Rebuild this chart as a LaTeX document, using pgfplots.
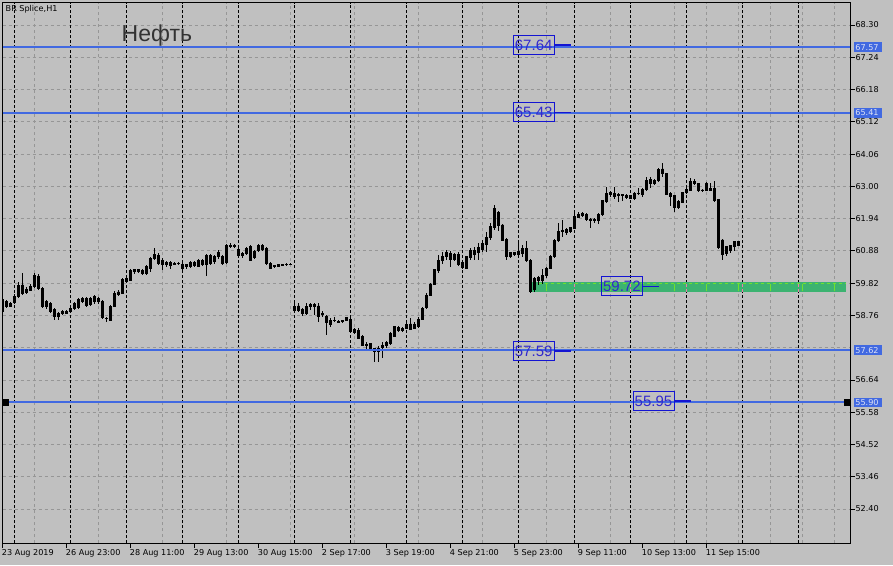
\documentclass[border=0pt]{standalone}
\usepackage{fontspec}
\setmainfont{DejaVu Sans}
\newfontfamily\arial{Liberation Sans}
\usepackage{pgfplots}
\usepackage{pgfplotstable}
\pgfplotsset{compat=1.18}

\definecolor{chartbg}{RGB}{192,192,192}
\definecolor{gridgray}{RGB}{150,150,150}
\definecolor{level}{RGB}{65,105,225}
\definecolor{zone}{RGB}{60,179,113}
\definecolor{zonegrid}{RGB}{110,225,45}
\definecolor{zonesep}{RGB}{240,125,170}
\definecolor{boxblue}{RGB}{20,20,210}
\definecolor{labeltext}{RGB}{50,40,205}
\definecolor{tagtext}{RGB}{220,225,245}
\definecolor{titlegray}{RGB}{51,51,51}

% BR Splice, H1 bars: index, open, high, low, close
\pgfplotstableread{
i o h l c
0 59.27 59.30 58.85 58.90
1 59.07 59.28 59.00 59.23
2 59.07 59.20 59.05 59.16
3 59.18 59.45 59.15 59.40
4 59.37 59.87 59.33 59.76
5 59.76 60.14 59.42 59.48
6 59.62 59.70 59.45 59.50
7 59.59 59.80 59.55 59.72
8 59.70 60.16 59.65 60.09
9 60.05 60.12 59.60 59.65
10 59.65 59.70 59.00 59.07
11 59.21 59.25 58.98 59.05
12 59.16 59.20 58.85 58.90
13 58.96 59.00 58.61 58.74
14 58.74 58.88 58.60 58.83
15 58.90 58.93 58.78 58.83
16 58.90 58.95 58.80 58.83
17 58.88 59.05 58.85 58.99
18 58.99 59.20 58.95 59.16
19 59.02 59.32 58.98 59.27
20 59.32 59.38 59.18 59.23
21 59.32 59.37 59.05 59.10
22 59.13 59.37 59.08 59.32
23 59.37 59.42 59.15 59.21
24 59.32 59.35 59.15 59.21
25 59.21 59.25 58.65 58.70
26 58.67 58.72 58.55 58.65
27 58.61 59.10 58.58 59.07
28 59.07 59.55 59.02 59.48
29 59.53 59.60 59.40 59.46
30 59.48 59.98 59.45 59.94
31 59.87 60.02 59.82 59.98
32 59.92 60.28 59.88 60.23
33 60.20 60.30 60.12 60.27
34 60.22 60.30 60.15 60.27
35 60.25 60.28 60.08 60.14
36 60.14 60.40 60.10 60.36
37 60.31 60.68 60.20 60.63
38 60.63 60.96 60.58 60.78
39 60.74 60.80 60.40 60.47
40 60.58 60.63 60.25 60.45
41 60.44 60.55 60.35 60.50
42 60.41 60.55 60.30 60.49
43 60.44 60.50 60.40 60.47
44 60.46 60.50 60.42 60.47
45 60.44 60.47 60.20 60.31
46 60.36 60.46 60.30 60.42
47 60.38 60.55 60.33 60.49
48 60.40 60.55 60.35 60.50
49 60.38 60.62 60.35 60.58
50 60.58 60.62 60.40 60.42
51 60.45 60.78 60.05 60.74
52 60.47 60.78 60.43 60.74
53 60.71 60.75 60.45 60.52
54 60.82 60.90 60.60 60.69
55 60.71 60.75 60.40 60.47
56 60.49 61.12 60.45 61.07
57 61.07 61.15 60.98 61.02
58 61.02 61.10 60.98 61.05
59 60.93 60.98 60.68 60.74
60 60.80 60.85 60.65 60.72
61 60.80 61.00 60.75 60.96
62 61.04 61.07 60.55 60.58
63 60.67 60.90 60.62 60.85
64 60.89 61.10 60.85 61.07
65 61.07 61.10 60.88 60.93
66 60.96 61.00 60.42 60.47
67 60.47 60.50 60.27 60.31
68 60.36 60.42 60.32 60.40
69 60.38 60.44 60.35 60.42
70 60.40 60.46 60.37 60.44
71 60.43 60.47 60.42 60.45
72 60.44 60.47 60.43 60.45
73 58.92 59.27 58.83 59.05
74 59.07 59.16 58.88 58.94
75 58.96 59.00 58.74 58.83
76 58.81 59.18 58.78 59.07
77 59.13 59.16 58.94 59.05
78 59.13 59.16 58.78 59.05
79 59.07 59.18 58.55 58.72
80 58.82 58.92 58.72 58.79
81 58.74 58.77 58.12 58.52
82 58.45 58.66 58.39 58.61
83 58.58 58.70 58.55 58.60
84 58.57 58.60 58.50 58.54
85 58.56 58.62 58.50 58.58
86 58.61 58.72 58.58 58.70
87 58.63 58.68 58.20 58.23
88 58.30 58.35 58.15 58.20
89 58.26 58.34 57.98 58.01
90 58.06 58.10 57.75 57.79
91 57.80 57.90 57.65 57.79
92 57.84 57.86 57.62 57.68
93 57.57 57.70 57.24 57.66
94 57.58 57.75 57.24 57.66
95 57.70 57.90 57.35 57.76
96 57.76 57.92 57.68 57.86
97 57.84 58.20 57.80 58.17
98 58.08 58.42 58.05 58.39
99 58.37 58.42 58.20 58.26
100 58.27 58.37 58.20 58.34
101 58.34 58.53 58.30 58.48
102 58.48 58.66 58.27 58.30
103 58.34 58.55 58.30 58.45
104 58.39 58.72 58.35 58.63
105 58.63 59.02 58.60 58.99
106 59.03 59.50 58.98 59.43
107 59.43 59.82 59.40 59.79
108 59.79 60.30 59.75 60.28
109 60.25 60.75 60.16 60.58
110 60.56 60.85 60.45 60.71
111 60.69 60.91 60.58 60.82
112 60.80 60.88 60.36 60.61
113 60.61 60.80 60.55 60.75
114 60.75 60.85 60.38 60.45
115 60.49 60.58 60.30 60.34
116 60.31 60.72 60.28 60.69
117 60.66 60.96 60.58 60.88
118 60.78 61.02 60.58 60.88
119 60.83 61.13 60.58 60.99
120 60.94 61.24 60.85 61.13
121 61.10 61.51 60.85 61.32
122 61.32 61.79 61.24 61.70
123 61.65 62.39 61.57 62.26
124 62.15 62.18 61.54 61.73
125 61.73 61.76 61.20 61.24
126 61.26 61.30 60.58 60.71
127 60.69 60.85 60.65 60.82
128 60.82 60.85 60.72 60.78
129 60.78 61.18 60.65 60.85
130 60.80 61.07 60.69 60.96
131 60.96 61.20 60.52 60.56
132 60.58 60.62 59.50 59.54
133 59.60 60.02 59.54 59.98
134 60.01 60.05 59.75 59.90
135 59.90 60.30 59.80 60.09
136 60.09 60.36 59.98 60.31
137 60.31 60.74 60.28 60.69
138 60.69 61.28 60.65 61.24
139 61.24 61.79 61.18 61.51
140 61.51 61.88 61.35 61.54
141 61.57 61.62 61.40 61.48
142 61.51 61.68 61.46 61.65
143 61.62 62.22 61.60 62.00
144 61.98 62.15 61.95 62.09
145 62.03 62.15 61.98 62.11
146 62.08 62.12 61.85 61.90
147 61.93 61.96 61.62 61.87
148 61.91 61.95 61.80 61.88
149 61.87 62.12 61.77 62.09
150 62.08 62.56 62.04 62.53
151 62.50 62.99 62.45 62.77
152 62.72 62.85 62.65 62.79
153 62.77 62.97 62.60 62.68
154 62.70 62.78 62.50 62.74
155 62.71 62.75 62.52 62.72
156 62.70 62.74 62.60 62.63
157 62.70 62.72 62.58 62.61
158 62.60 62.82 62.54 62.77
159 62.77 62.95 62.72 62.76
160 62.72 62.95 62.66 62.90
161 62.90 63.32 62.86 63.21
162 63.23 63.32 62.93 63.10
163 63.10 63.25 63.05 63.21
164 63.21 63.60 63.15 63.57
165 63.57 63.78 63.30 63.41
166 63.41 63.45 62.70 62.74
167 62.77 62.80 62.36 62.66
168 62.69 62.72 62.17 62.31
169 62.31 62.55 62.25 62.50
170 62.47 62.82 62.45 62.79
171 62.79 62.97 62.75 62.90
172 62.88 63.26 62.85 63.15
173 63.17 63.23 63.05 63.10
174 63.10 63.12 62.82 62.86
175 62.88 62.92 62.82 62.86
176 63.10 63.15 62.84 62.88
177 62.93 63.12 62.85 62.88
178 62.93 63.19 62.50 62.53
179 62.57 62.60 60.95 60.99
180 61.24 61.28 60.58 60.75
181 60.80 61.05 60.70 61.02
182 60.91 61.08 60.80 61.05
183 61.02 61.20 60.88 61.18
184 61.18 61.20 61.03 61.07
}\candles

\pgfplotsset{
  chartframe/.style={
    at={(2.7pt,22pt)}, anchor=south west,
    scale only axis, width=847.3pt, height=540.3pt,
    xmin=0, xmax=211.825, ymin=51.283, ymax=69.033,
  },
}
\tikzset{
  pricetag/.style={anchor=west, xshift=3.3pt, fill=level, text=tagtext,
    inner xsep=1.9pt, inner ysep=0pt, minimum height=9.6pt,
    font=\fontsize{8.1}{9}\selectfont},
  levelbox/.style={draw=boxblue, line width=1pt, inner sep=0pt,
    minimum width=41pt, minimum height=19pt, text=labeltext,
    font=\arial\fontsize{15}{16}\selectfont},
}

\begin{document}
\begin{tikzpicture}
\path[fill=chartbg, use as bounding box] (0,0) rectangle (893pt,565pt);

% grid, ticks, frame, zone
\begin{axis}[chartframe,
  axis line style={black, line width=1pt},
  tick align=outside, xtick pos=left, ytick pos=right,
  xticklabel pos=left, yticklabel pos=right,
  major tick length=4.5pt, minor tick length=0pt,
  tick style={black, line width=0.8pt},
  xtick={0,16,...,176},
  xticklabels={23 Aug 2019, 26 Aug 23:00, 28 Aug 11:00, 29 Aug 13:00,
    30 Aug 15:00, 2 Sep 17:00, 3 Sep 19:00, 4 Sep 21:00, 5 Sep 23:00,
    9 Sep 11:00, 10 Sep 13:00, 11 Sep 15:00},
  xticklabel style={anchor=north west, inner sep=0pt, xshift=-1pt, yshift=-1.5pt,
    font=\fontsize{8.1}{9}\selectfont},
  ytick={52.40,53.46,54.52,55.58,56.64,58.76,59.82,60.88,61.94,63.00,64.06,65.12,66.18,67.24,68.30},
  yticklabel style={anchor=west, inner sep=0pt, xshift=0.8pt,
    font=\fontsize{8.1}{9}\selectfont,
    /pgf/number format/fixed, /pgf/number format/fixed zerofill,
    /pgf/number format/precision=2},
  /pgf/number format/assume math mode=true,
  ymajorgrids, xmajorgrids=false,
  major grid style={gridgray, dash pattern=on 3pt off 3pt, line width=0.8pt},
  minor xtick={8,24,...,200,176,192,208}, xminorgrids,
  minor grid style={gridgray, dash pattern=on 3pt off 3pt, line width=0.8pt},
  extra y ticks={57.70}, extra y tick labels={},
  extra y tick style={major tick length=0pt},
  extra x ticks={3,17,...,199}, extra x tick labels={},
  extra x tick style={xmajorgrids=true, major tick length=0pt,
    major grid style={black, dash pattern=on 3pt off 2pt, line width=0.8pt}},
  unbounded coords=jump,
]
\addplot[fill=zone, draw=none] coordinates {(132.4,59.539) (210.7,59.539) (210.7,59.867) (132.4,59.867)} -- cycle;
% grid lines seen through the zone
\addplot[zonegrid, line width=0.8pt, dash pattern=on 3pt off 3pt] coordinates {(132.6,59.82) (210.7,59.82)};
\addplot[zonegrid, line width=0.8pt] coordinates {
  (136,59.55) (136,59.80) (136,nan) (152,59.55) (152,59.80) (152,nan)
  (168,59.55) (168,59.80) (168,nan) (176,59.55) (176,59.80) (176,nan)
  (184,59.55) (184,59.80) (184,nan) (192,59.55) (192,59.80) (192,nan)
  (200,59.55) (200,59.80) (200,nan) (208,59.55) (208,59.80)};
\addplot[zonesep, line width=0.8pt, dash pattern=on 3pt off 2pt] coordinates {
  (143,59.54) (143,59.86) (143,nan) (157,59.54) (157,59.86) (157,nan)
  (171,59.54) (171,59.86) (171,nan) (185,59.54) (185,59.86) (185,nan)
  (199,59.54) (199,59.86)};
\end{axis}

% candles
\begin{axis}[chartframe, hide axis, ybar stacked, bar width=2.2pt]
\addplot[draw=none, fill=none,
  error bars/.cd, y dir=both, y explicit, error mark=none,
  error bar style={draw=black, line width=0.9pt}]
  table[x=i, y expr={min(\thisrow{o},\thisrow{c})},
    y error plus expr={\thisrow{h}-min(\thisrow{o},\thisrow{c})},
    y error minus expr={min(\thisrow{o},\thisrow{c})-\thisrow{l}}] {\candles};
\addplot[draw=black, fill=white, line width=0.8pt]
  table[x=i, y expr={max(\thisrow{c}-\thisrow{o},0)}] {\candles};
\addplot[draw=black, fill=black, line width=0.8pt]
  table[x=i, y expr={max(\thisrow{o}-\thisrow{c},0)}] {\candles};
\end{axis}

% levels and labels
\begin{axis}[chartframe, hide axis, clip=false]
\addplot[level, line width=2pt] coordinates {(0,67.57) (211.825,67.57)};
\addplot[level, line width=2pt] coordinates {(0,65.41) (211.825,65.41)};
\addplot[level, line width=2pt] coordinates {(0,57.62) (211.825,57.62)};
\addplot[level, line width=2pt] coordinates {(0,55.90) (211.825,55.90)};
\addplot[only marks, mark=square*, mark size=2.8pt, mark options={black, fill=black}]
  coordinates {(0.575,55.90) (211.075,55.90)};

\addplot[boxblue, line width=1.2pt] coordinates {(137.8,67.64) (142.1,67.64)};
\addplot[boxblue, line width=1.2pt] coordinates {(137.8,65.43) (142.1,65.43)};
\addplot[boxblue, line width=1.2pt] coordinates {(137.8,57.59) (142.1,57.59)};
\addplot[boxblue, line width=1.2pt] coordinates {(167.8,55.95) (172.1,55.95)};
\addplot[boxblue, line width=1.2pt] coordinates {(160.1,59.72) (164.1,59.72)};

\node[levelbox] at (axis cs:132.74,67.64) {67.64};
\node[levelbox] at (axis cs:132.74,65.43) {65.43};
\node[levelbox] at (axis cs:132.74,57.59) {57.59};
\node[levelbox] at (axis cs:162.7,55.95) {55.95};
\node[levelbox] at (axis cs:154.8,59.72) {59.72};

\node[pricetag] at (axis cs:211.825,67.57) {\makebox[24.6pt][l]{67.57}};
\node[pricetag] at (axis cs:211.825,65.41) {\makebox[24.6pt][l]{65.41}};
\node[pricetag] at (axis cs:211.825,57.62) {\makebox[24.6pt][l]{57.62}};
\node[pricetag] at (axis cs:211.825,55.90) {\makebox[24.6pt][l]{55.90}};
\end{axis}

\node[anchor=base west, inner sep=0pt, font=\fontsize{8.1}{9}\selectfont]
  at (5.5pt,553.5pt) {BR Splice,H1};
\node[anchor=base west, inner sep=0pt, text=titlegray, font=\arial\fontsize{23}{26}\selectfont]
  at (121.5pt,523.3pt) {Нефть};
\end{tikzpicture}
\end{document}
